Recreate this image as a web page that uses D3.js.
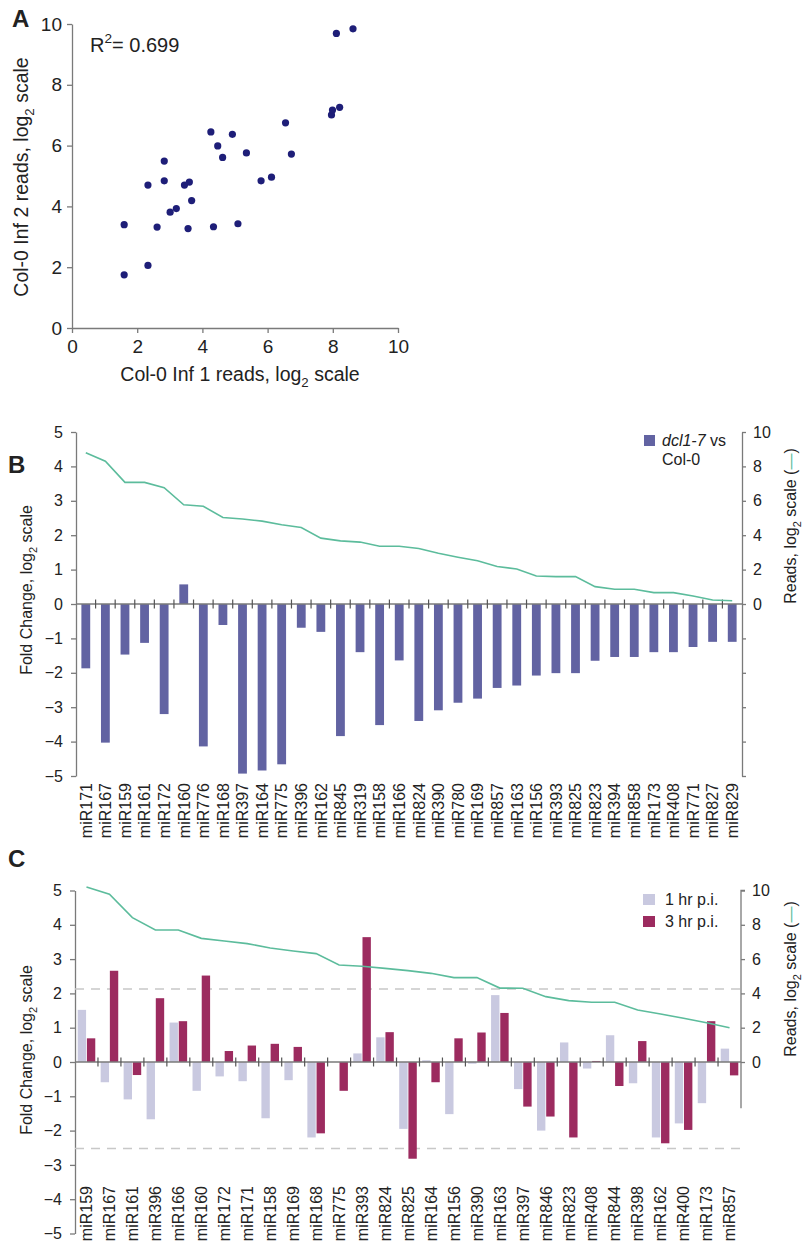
<!DOCTYPE html>
<html><head><meta charset="utf-8">
<script src="https://cdn.jsdelivr.net/npm/d3@7"></script>
<style>
body{margin:0;background:#fff}
svg{display:block}
text{font-family:"Liberation Sans",Arial,sans-serif;fill:#222}
</style>
</head><body>
<svg id="chart" width="808" height="1243"></svg>
<script>
// ---------- Panel A data ----------
const scatterX = [8.62,8.11,7.96,7.99,8.21,6.55,6.73,5.80,6.12,5.35,4.92,4.26,4.47,4.62,5.09,4.34,3.56,3.67,3.60,3.45,3.20,3.01,2.83,2.83,2.33,2.61,2.33,1.60,1.60];
const scatterY = [9.84,9.69,7.01,7.17,7.26,6.75,5.72,4.84,4.96,5.76,6.37,6.45,5.99,5.61,3.43,3.33,3.27,4.19,4.80,4.70,3.93,3.81,5.49,4.84,4.70,3.32,2.06,3.40,1.75];
const scatterTicks = [0,2,4,6,8,10];
const rSquared = "0.699";

// ---------- Panel B data ----------
const catsB = ["miR171","miR167","miR159","miR161","miR172","miR160","miR776","miR168","miR397","miR164","miR775","miR396","miR162","miR845","miR319","miR158","miR166","miR824","miR390","miR780","miR169","miR857","miR163","miR156","miR393","miR825","miR823","miR394","miR858","miR173","miR408","miR771","miR827","miR829"];
const foldB = [-1.87,-4.03,-1.47,-1.13,-3.20,0.57,-4.14,-0.61,-4.93,-4.84,-4.66,-0.69,-0.81,-3.84,-1.40,-3.52,-1.64,-3.40,-3.09,-2.87,-2.75,-2.44,-2.37,-2.08,-2.01,-2.01,-1.65,-1.54,-1.54,-1.40,-1.40,-1.25,-1.10,-1.10];
const readsB = [8.79,8.30,7.07,7.07,6.76,5.77,5.68,5.03,4.94,4.82,4.61,4.45,3.83,3.67,3.60,3.36,3.36,3.23,2.95,2.72,2.51,2.18,2.04,1.63,1.59,1.59,1.01,0.86,0.86,0.66,0.66,0.47,0.23,0.19];

// ---------- Panel C data ----------
const catsC = ["miR159","miR167","miR161","miR396","miR166","miR160","miR172","miR171","miR158","miR169","miR168","miR775","miR393","miR824","miR825","miR164","miR156","miR390","miR163","miR397","miR846","miR823","miR408","miR844","miR398","miR162","miR400","miR173","miR857"];
const fold1hr = [1.52,-0.59,-1.09,-1.67,1.15,-0.84,-0.42,-0.56,-1.64,-0.53,-2.20,0.00,0.25,0.72,-1.95,0.05,-1.52,-0.05,1.95,-0.79,-2.00,0.57,-0.19,0.78,-0.62,-2.20,-1.79,-1.20,0.39];
const fold3hr = [0.69,2.66,-0.38,1.86,1.19,2.52,0.32,0.48,0.53,0.44,-2.08,-0.84,3.64,0.87,-2.82,-0.59,0.69,0.86,1.43,-1.30,-1.59,-2.20,0.03,-0.70,0.61,-2.37,-1.98,1.19,-0.39];
const readsC = [10.2,9.78,8.42,7.70,7.70,7.21,7.06,6.90,6.65,6.47,6.32,5.66,5.58,5.46,5.33,5.17,4.92,4.92,4.31,4.30,3.81,3.58,3.48,3.48,3.03,2.80,2.55,2.29,2.00];
const thresholdsC = [2.13,-2.52];
const seriesC = ["1 hr p.i.","3 hr p.i."];

const foldTicks = [5,4,3,2,1,0,-1,-2,-3,-4,-5];
const readsTicks = [0,2,4,6,8,10];

// ---------- styles ----------
const AXIS = "#7a7a7a";
const COL_B = "#6263a2";
const COL_LINE = "#5cbc9c";
const COL_1H = "#c9c9e0";
const COL_3H = "#9c2b5f";
const COL_DOT = "#1e1e78";

const svg = d3.select("#chart");

function styleAxis(g, fs){
  g.select(".domain").attr("stroke", AXIS).attr("stroke-width",1.3);
  g.selectAll(".tick line").attr("stroke", AXIS).attr("stroke-width",1.3);
  g.selectAll(".tick text").attr("font-size", fs).attr("fill","#222")
    .attr("font-family",'"Liberation Sans",Arial,sans-serif');
}

// text with parts: {t, sub, sup, it, fill}
function richText(sel, parts, fs){
  let shift = 0;
  parts.forEach(p => {
    const ts = sel.append("tspan").text(p.t);
    let target = 0;
    if (p.sub) { ts.attr("font-size", fs*0.68); target = fs*0.3; }
    else if (p.sup) { ts.attr("font-size", fs*0.68); target = -fs*0.45; }
    if (target !== shift) { ts.attr("dy", target - shift); shift = target; }
    if (p.it) ts.attr("font-style","italic");
    if (p.fill) ts.style("fill", p.fill);
  });
}

function panelLetter(x, y, s){
  svg.append("text").attr("x",x).attr("y",y).attr("font-size",24)
    .attr("font-weight","bold").text(s);
}

// ================= Panel A =================
(function(){
  const x = d3.scaleLinear().domain([0,10]).range([72,398]);
  const y = d3.scaleLinear().domain([0,10]).range([328,24]);
  const g = svg.append("g");
  const ax = g.append("g").attr("transform","translate(0,328)")
    .call(d3.axisBottom(x).tickValues(scatterTicks).tickSize(5).tickSizeOuter(0).tickPadding(7));
  styleAxis(ax, 19);
  const ay = g.append("g").attr("transform","translate(72,0)")
    .call(d3.axisLeft(y).tickValues(scatterTicks).tickSize(5).tickSizeOuter(0).tickPadding(5));
  styleAxis(ay, 19);
  g.selectAll("circle").data(scatterX).join("circle")
    .attr("cx",(d)=>x(d)).attr("cy",(d,i)=>y(scatterY[i])).attr("r",3.6).attr("fill",COL_DOT);
  const fs = 19.5;
  richText(g.append("text").attr("x",240).attr("y",381).attr("text-anchor","middle").attr("font-size",fs),
    [{t:"Col-0 Inf 1 reads, log"},{t:"2",sub:true},{t:" scale"}], fs);
  richText(g.append("text").attr("transform","translate(28,177) rotate(-90)").attr("text-anchor","middle").attr("font-size",fs),
    [{t:"Col-0 Inf 2 reads, log"},{t:"2",sub:true},{t:" scale"}], fs);
  richText(g.append("text").attr("x",90).attr("y",52).attr("font-size",20),
    [{t:"R"},{t:"2",sup:true},{t:"= "+rSquared}], 20);
  panelLetter(12,27,"A");
})();

// ================= Bar panels helper =================
function drawFrame(yTop, yBot, x0, x1, opts){
  const y = d3.scaleLinear().domain([-5,5]).range([yBot,yTop]);
  const yr = d3.scaleLinear().domain([-10,10]).range([yBot,yTop]);
  const g = svg.append("g");
  const al = g.append("g").attr("transform",`translate(${x0},0)`)
    .call(d3.axisLeft(y).tickValues(foldTicks).tickSize(5).tickSizeOuter(0).tickPadding(8)
      .tickFormat(d3.format("d")));
  styleAxis(al, 16);
  return {g, y, yr};
}

function zeroLine(g, y, x0, x1, bounds){
  const y0 = y(0);
  g.append("line").attr("x1",x0).attr("x2",x1).attr("y1",y0).attr("y2",y0)
    .attr("stroke",AXIS).attr("stroke-width",1.3);
  g.selectAll("line.bt").data(bounds).join("line").attr("class","bt")
    .attr("x1",d=>d).attr("x2",d=>d).attr("y1",y0-4.5).attr("y2",y0+4.5)
    .attr("stroke","#555").attr("stroke-width",1.2);
}

// ================= Panel B =================
(function(){
  const X0=76, X1=742, T=432, B=776;
  const {g, y, yr} = drawFrame(T,B,X0,X1);
  const x = d3.scaleBand().domain(catsB).range([X0,X1]).paddingInner(0.55).paddingOuter(0.275);
  const step = x.step();
  // bars
  g.selectAll("rect.b").data(catsB).join("rect").attr("class","b")
    .attr("x",d=>x(d)).attr("width",x.bandwidth())
    .attr("y",(d,i)=>Math.min(y(0),y(foldB[i])))
    .attr("height",(d,i)=>Math.abs(y(foldB[i])-y(0)))
    .attr("fill",COL_B);
  const bounds = catsB.slice(1).map(d=>x(d)-step*0.275);
  zeroLine(g, y, X0, X1, bounds);
  // right axis
  const ar = g.append("g").attr("transform",`translate(${X1},0)`)
    .call(d3.axisRight(yr).tickValues([-10,-8,-6,-4,-2,0,2,4,6,8,10]).tickSize(4).tickSizeOuter(0).tickPadding(7)
      .tickFormat(d=>d>=0?d:""));
  styleAxis(ar, 16);
  // line
  const line = d3.line().x((d,i)=>x(catsB[i])+x.bandwidth()/2).y(d=>yr(d));
  g.append("path").datum(readsB).attr("d",line).attr("fill","none")
    .attr("stroke",COL_LINE).attr("stroke-width",1.6);
  // category labels
  g.selectAll("text.cat").data(catsB).join("text").attr("class","cat")
    .attr("transform",d=>`translate(${x(d)+x.bandwidth()/2},783) rotate(-90)`)
    .attr("text-anchor","end").attr("dy","0.36em").attr("font-size",16).text(d=>d);
  // titles
  const fs=16;
  richText(g.append("text").attr("transform","translate(32,590) rotate(-90)").attr("text-anchor","middle").attr("font-size",fs),
    [{t:"Fold Change, log"},{t:"2",sub:true},{t:" scale"}], fs);
  richText(g.append("text").attr("transform","translate(796,526) rotate(-90)").attr("text-anchor","middle").attr("font-size",fs),
    [{t:"Reads, log"},{t:"2",sub:true},{t:" scale ("},{t:"\u2014",fill:COL_LINE},{t:")"}], fs);
  // legend
  g.append("rect").attr("x",644).attr("y",435).attr("width",11).attr("height",11).attr("fill",COL_B);
  richText(g.append("text").attr("x",662).attr("y",446).attr("font-size",fs),
    [{t:"dcl1-7",it:true},{t:" vs"}], fs);
  g.append("text").attr("x",662).attr("y",465).attr("font-size",fs).text("Col-0");
  panelLetter(8,473,"B");
})();

// ================= Panel C =================
(function(){
  const X0=75, X1=741, T=890.5, B=1233.5;
  const {g, y, yr} = drawFrame(T,B,X0,X1);
  const x = d3.scaleBand().domain(catsC).range([X0,X1]);
  const xs = d3.scaleBand().domain(seriesC).range([0,x.bandwidth()]).paddingInner(0.09).paddingOuter(0.293);
  // threshold lines
  g.selectAll("line.th").data(thresholdsC).join("line").attr("class","th")
    .attr("x1",X0).attr("x2",X1).attr("y1",d=>y(d)).attr("y2",d=>y(d))
    .attr("stroke","#c8c8c8").attr("stroke-width",1.5).attr("stroke-dasharray","9,7");
  const vals = [fold1hr, fold3hr];
  const cols = [COL_1H, COL_3H];
  seriesC.forEach((s,k)=>{
    g.selectAll("rect.s"+k).data(catsC).join("rect").attr("class","s"+k)
      .attr("x",d=>x(d)+xs(s)).attr("width",xs.bandwidth())
      .attr("y",(d,i)=>Math.min(y(0),y(vals[k][i])))
      .attr("height",(d,i)=>Math.abs(y(vals[k][i])-y(0)))
      .attr("fill",cols[k]);
  });
  const bounds = catsC.slice(1).map(d=>x(d));
  zeroLine(g, y, X0, X1, bounds);
  // right axis (0..10 shown)
  const ar = g.append("g").attr("transform",`translate(${X1},0)`)
    .call(d3.axisRight(yr).tickValues(readsTicks).tickSize(4).tickSizeOuter(0).tickPadding(7));
  styleAxis(ar, 16);
  ar.select(".domain").attr("d",`M4,${yr(10)}H0V${yr(-2.7)}`);
  const line = d3.line().x((d,i)=>x(catsC[i])+x.bandwidth()/2).y(d=>yr(d));
  g.append("path").datum(readsC).attr("d",line).attr("fill","none")
    .attr("stroke",COL_LINE).attr("stroke-width",1.6);
  g.selectAll("text.cat").data(catsC).join("text").attr("class","cat")
    .attr("transform",d=>`translate(${x(d)+x.bandwidth()/2},1186) rotate(-90)`)
    .attr("text-anchor","end").attr("dy","0.36em").attr("font-size",16).text(d=>d);
  const fs=16;
  richText(g.append("text").attr("transform","translate(32,1050) rotate(-90)").attr("text-anchor","middle").attr("font-size",fs),
    [{t:"Fold Change, log"},{t:"2",sub:true},{t:" scale"}], fs);
  richText(g.append("text").attr("transform","translate(796,979) rotate(-90)").attr("text-anchor","middle").attr("font-size",fs),
    [{t:"Reads, log"},{t:"2",sub:true},{t:" scale ("},{t:"\u2014",fill:COL_LINE},{t:")"}], fs);
  // legend
  seriesC.forEach((s,k)=>{
    g.append("rect").attr("x",643).attr("y",894+k*22).attr("width",12).attr("height",11).attr("fill",cols[k]);
    g.append("text").attr("x",665).attr("y",905+k*22).attr("font-size",fs).text(s);
  });
  panelLetter(8,867,"C");
})();
</script>
</body></html>
